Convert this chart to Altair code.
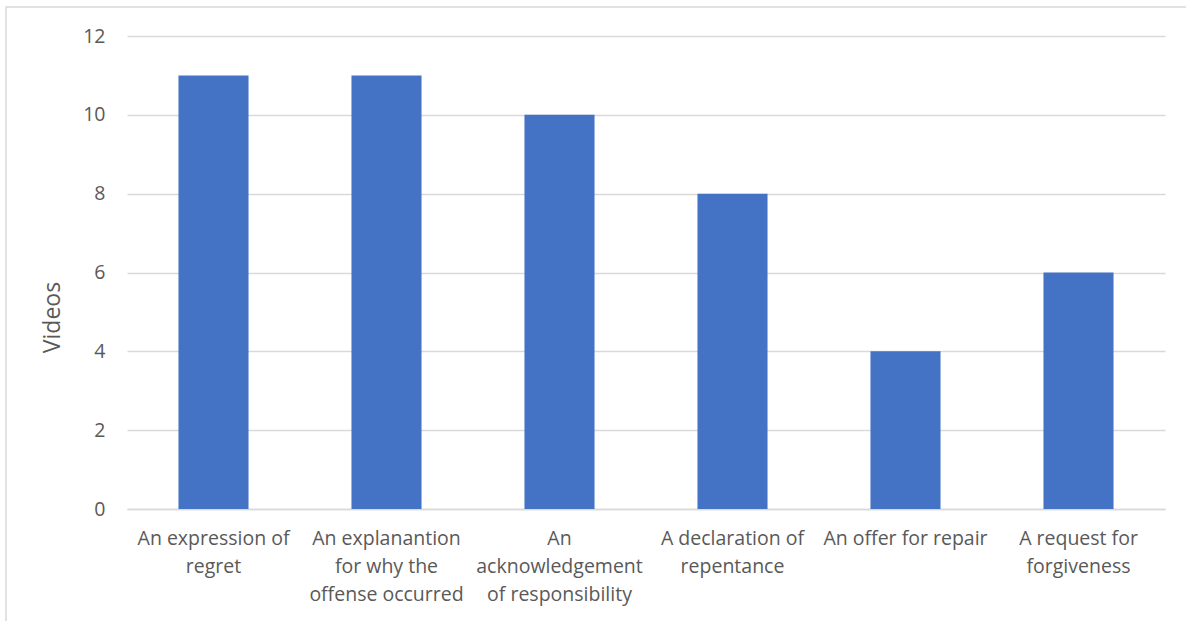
import altair as alt
import pandas as pd

categories = [
    "An expression of regret",
    "An explanantion for why the offense occurred",
    "An acknowledgement of responsibility",
    "A declaration of repentance",
    "An offer for repair",
    "A request for forgiveness",
]
label_lines = [
    ["An expression of", "regret"],
    ["An explanantion", "for why the", "offense occurred"],
    ["An", "acknowledgement", "of responsibility"],
    ["A declaration of", "repentance"],
    ["An offer for repair"],
    ["A request for", "forgiveness"],
]
videos = [11, 11, 10, 8, 4, 6]
y_ticks = [0, 2, 4, 6, 8, 10, 12]

df = pd.DataFrame({"category": categories, "videos": videos})

mapping = "{" + ",".join(
    "'" + c + "':[" + ",".join("'" + l + "'" for l in ls) + "]"
    for c, ls in zip(categories, label_lines)
) + "}"
label_expr = mapping + "[datum.label]"

FONT = "Open Sans"
TXT = "#595959"
W, H = 1038, 473

bars = alt.Chart(df).mark_bar(color="#4472C4").encode(
    x=alt.X(
        "category:N",
        sort=categories,
        scale=alt.Scale(paddingInner=0.595, paddingOuter=0.2975),
        axis=alt.Axis(
            title=None,
            labelAngle=0,
            labelExpr=label_expr,
            labelFont=FONT,
            labelFontSize=19.5,
            labelColor=TXT,
            labelLineHeight=28,
            labelPadding=20,
            ticks=False,
            grid=False,
            domainColor="#d9d9d9",
            domainWidth=1.5,
            labelLimit=300,
        ),
    ),
    y=alt.Y(
        "videos:Q",
        scale=alt.Scale(domain=[0, 12], nice=False),
        axis=alt.Axis(
            title="Videos",
            values=y_ticks,
            labelFont=FONT,
            labelFontSize=19.5,
            labelColor=TXT,
            labelPadding=22,
            ticks=False,
            domain=False,
            gridColor="#d9d9d9",
            gridWidth=1.5,
            titleFont=FONT,
            titleFontSize=23,
            titleFontWeight="normal",
            titleColor=TXT,
            titleX=-75,
            titleY=281,
            titleAngle=-90,
            titleAlign="center",
            titleBaseline="middle",
        ),
    ),
)

border = alt.Chart(pd.DataFrame({"a": [0]})).mark_rect(
    fill=None, stroke="#d9d9d9", strokeWidth=1.5, clip=False
).encode(
    x=alt.value(-121), x2=alt.value(W + 60), y=alt.value(-29), y2=alt.value(H + 140)
)

chart = alt.layer(border, bars).properties(
    width=W,
    height=H,
    autosize=alt.AutoSizeParams(type="none"),
    padding={"left": 127, "top": 36, "right": 21, "bottom": 112},
).configure(background="white").configure_view(stroke=None)

chart.save("out.html", embed_options={"renderer": "svg", "actions": False})
